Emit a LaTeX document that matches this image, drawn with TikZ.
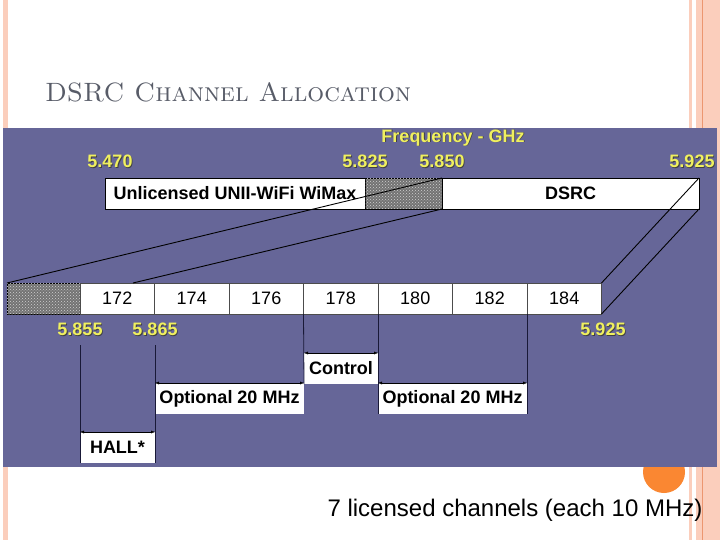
\documentclass[tikz,border=0pt]{standalone}
\usepackage{fontspec}
\newfontfamily\arial{Liberation Sans}
\usetikzlibrary{positioning,arrows.meta,patterns}
\definecolor{PanelBlue}{RGB}{102,102,152}
\definecolor{FreqYellow}{RGB}{240,240,95}
\definecolor{TitleGray}{RGB}{88,92,104}
\definecolor{StripePink}{RGB}{251,206,188}
\definecolor{StripeLine}{RGB}{236,150,112}
\definecolor{DotOrange}{RGB}{250,135,50}
\definecolor{LineNavy}{RGB}{25,25,55}
% yellow label with a dark drop shadow
\newcommand{\ghz}[1]{\makebox[0pt][l]{\hspace{0.8pt}\raisebox{-0.8pt}{\color{black!75}#1}}#1}

\begin{document}
\begin{tikzpicture}[x=1pt, y=-1pt,
    every node/.style={font=\arial, inner sep=0pt, outer sep=0pt},
    freq/.style={font=\arial\fontsize{18}{18}\selectfont\bfseries, text=FreqYellow},
    bar/.style={draw=black, fill=white, minimum height=31pt, font=\arial\fontsize{18}{18}\selectfont\bfseries},
    hatch/.style={draw=black, fill=black!55, minimum height=31pt,
        postaction={pattern=crosshatch dots, pattern color=gray!35}},
    chan/.style={draw=gray!60!black, fill=white, minimum width=74.5pt, minimum height=31pt,
        font=\arial\fontsize{18}{18}\selectfont},
    band/.style={fill=white, minimum height=31pt, font=\arial\fontsize{18}{18}\selectfont\bfseries},
    span/.style={{Latex[length=4pt,width=3pt]}-{Latex[length=4pt,width=3pt]}, thin, black},
    tick/.style={LineNavy, line width=0.8pt},
    zoomline/.style={black, line width=0.9pt},
]
\useasboundingbox (0,0) rectangle (720,540);
\fill[white] (0,0) rectangle (720,540);

% slide decoration
\fill[StripePink] (3,0) rectangle (8,540);
\fill[StripePink] (689,0) rectangle (692,540);
\fill[StripePink] (696,0) rectangle (720,540);
\draw[StripeLine, line width=1pt] (702.5,0) -- (702.5,540);
\fill[DotOrange] (664,472) circle (21);

% picture panel
\fill[PanelBlue] (3,128) rectangle (717,467);

\node[font=\rmfamily\fontsize{26.5}{26.5}\selectfont, text=TitleGray, anchor=base west] (title) at (45,102)
    {\textsc{DSRC Channel Allocation}};

% upper band 5.470 - 5.925
\node[freq] (freqlab) at (453,138) {\ghz{Frequency - GHz}};
\node[freq] (f5470) at (110,162) {\ghz{5.470}};
\node[freq] (f5825) at (365,162) {\ghz{5.825}};
\node[freq] (f5850) at (442,162) {\ghz{5.850}};
\node[freq] (f5925) at (692,162) {\ghz{5.925}};

\node[bar, minimum width=260pt, anchor=north west] (unii) at (105,178) {Unlicensed UNII-WiFi WiMax};
\node[hatch, minimum width=77pt, right=0pt of unii] (gap) {};
\node[bar, minimum width=257pt, right=0pt of gap] (dsrc) {DSRC};

% channel row
\node[hatch, minimum width=73pt, anchor=north west] (guard) at (7,283) {};
\node[chan, right=0pt of guard] (c172) {172};
\node[chan, right=0pt of c172] (c174) {174};
\node[chan, right=0pt of c174] (c176) {176};
\node[chan, right=0pt of c176] (c178) {178};
\node[chan, right=0pt of c178] (c180) {180};
\node[chan, right=0pt of c180] (c182) {182};
\node[chan, right=0pt of c182] (c184) {184};

\coordinate (zoomfoot) at (133,283);
\draw[zoomline] (guard.north west) -- (gap.north east);
\draw[zoomline] (zoomfoot) -- (gap.south east);
\draw[zoomline] (c184.north east) -- (dsrc.north east);
\draw[zoomline] (c184.south east) -- (dsrc.south east);

\node[freq] (f5855) at (80,330) {\ghz{5.855}};
\node[freq] (f5865) at (155,330) {\ghz{5.865}};
\node[freq] (f5925b) at (603,330) {\ghz{5.925}};

% usage blocks
\node[band, minimum width=75pt, anchor=north west] (hall) at (80,432) {HALL*};
\node[band, minimum width=149pt, anchor=north west] (opt1) at (155,383) {Optional 20 MHz};
\node[band, minimum width=74pt, anchor=north west] (ctrl) at (304,353) {Control};
\node[band, minimum width=149pt, anchor=north west] (opt2) at (378,383) {Optional 20 MHz};

\coordinate (hallfoot) at (80,345);
\coordinate (optfoot) at (155,345);
\draw[tick] (hallfoot) -- (hall.south west);
\draw[tick] (optfoot) -- (hall.south east);
\draw[tick] (c178.south west) -- (ctrl.south west);
\draw[tick] (c180.south west) -- (opt2.south west);
\draw[tick] (c184.south west) -- (opt2.south east);

\draw[span] (hall.north west) -- (hall.north east);
\draw[span] (opt1.north west) -- (opt1.north east);
\draw[span] (ctrl.north west) -- (ctrl.north east);
\draw[span] (opt2.north west) -- (opt2.north east);

\node[font=\arial\fontsize{24}{24}\selectfont] (note) at (515,510) {7 licensed channels (each 10 MHz)};
\end{tikzpicture}
\end{document}
